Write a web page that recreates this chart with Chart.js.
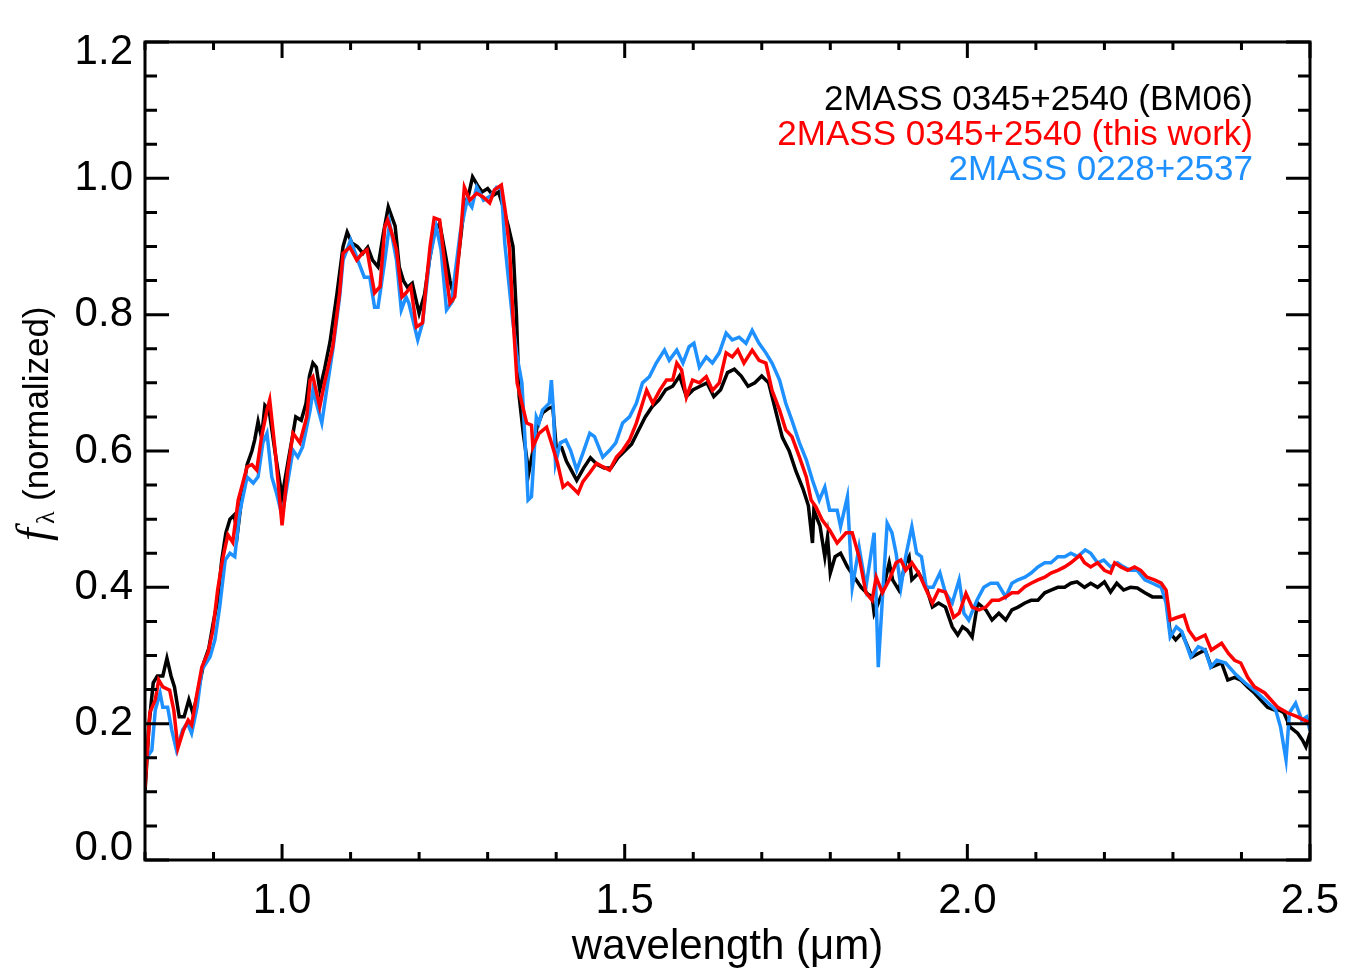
<!DOCTYPE html>
<html>
<head>
<meta charset="utf-8">
<script src="https://cdn.jsdelivr.net/npm/chart.js@4.4.1/dist/chart.umd.min.js"></script>
<style>
  html, body { margin: 0; padding: 0; background: #fff; }
  #wrap { width: 1350px; height: 975px; }
</style>
</head>
<body>
<div id="wrap"><canvas id="spectra" width="1350" height="975"></canvas></div>
<script>
// series labels and colours
const seriesLabels = ['2MASS 0345+2540 (BM06)', '2MASS 0345+2540 (this work)', '2MASS 0228+2537'];
const seriesColors = ['#000000', '#ff0000', '#1e90ff'];

// axis ticks
const xMajorTicks = [1.0, 1.5, 2.0, 2.5];
const yMajorTicks = [0.0, 0.2, 0.4, 0.6, 0.8, 1.0, 1.2];

// 2MASS 0345+2540 (BM06)
const bm06Wave = [0.800,0.806,0.812,0.818,0.826,0.832,0.838,0.843,0.850,0.857,0.864,0.870,0.878,0.886,0.893,0.900,0.906,0.912,0.918,0.924,0.930,0.935,0.941,0.949,0.956,0.960,0.965,0.970,0.975,0.981,0.990,1.000,1.008,1.015,1.020,1.028,1.035,1.040,1.045,1.050,1.055,1.062,1.070,1.080,1.089,1.095,1.102,1.110,1.118,1.125,1.132,1.140,1.148,1.155,1.165,1.171,1.177,1.183,1.190,1.200,1.208,1.215,1.222,1.230,1.238,1.245,1.250,1.258,1.266,1.272,1.278,1.285,1.292,1.300,1.308,1.316,1.322,1.330,1.337,1.342,1.346,1.352,1.360,1.366,1.372,1.380,1.388,1.395,1.400,1.408,1.415,1.422,1.430,1.440,1.450,1.460,1.470,1.480,1.490,1.500,1.510,1.520,1.530,1.540,1.550,1.560,1.570,1.580,1.590,1.600,1.610,1.620,1.630,1.640,1.650,1.660,1.670,1.680,1.690,1.700,1.710,1.720,1.730,1.740,1.750,1.760,1.768,1.774,1.776,1.785,1.792,1.796,1.800,1.807,1.815,1.825,1.835,1.845,1.855,1.861,1.864,1.876,1.886,1.891,1.900,1.910,1.915,1.919,1.929,1.940,1.949,1.958,1.968,1.978,1.986,1.993,2.000,2.007,2.015,2.027,2.036,2.046,2.056,2.065,2.074,2.084,2.093,2.103,2.113,2.122,2.132,2.142,2.151,2.160,2.171,2.180,2.190,2.200,2.209,2.218,2.228,2.238,2.248,2.259,2.270,2.283,2.290,2.296,2.304,2.313,2.328,2.337,2.347,2.356,2.371,2.380,2.390,2.399,2.409,2.419,2.428,2.438,2.448,2.455,2.462,2.471,2.482,2.489,2.494,2.500];
const bm06Flux = [0.100,0.200,0.260,0.270,0.270,0.296,0.270,0.254,0.210,0.210,0.235,0.215,0.250,0.290,0.310,0.350,0.380,0.440,0.480,0.500,0.506,0.480,0.530,0.580,0.600,0.616,0.643,0.620,0.667,0.660,0.597,0.533,0.580,0.620,0.650,0.645,0.670,0.710,0.729,0.723,0.690,0.720,0.760,0.830,0.900,0.921,0.905,0.900,0.890,0.899,0.880,0.870,0.920,0.958,0.930,0.870,0.850,0.840,0.846,0.802,0.830,0.880,0.920,0.934,0.890,0.850,0.830,0.890,0.960,0.975,1.002,0.990,0.980,0.985,0.975,0.980,0.960,0.930,0.900,0.800,0.680,0.626,0.568,0.600,0.635,0.656,0.662,0.665,0.606,0.605,0.585,0.572,0.557,0.575,0.590,0.580,0.575,0.575,0.590,0.600,0.610,0.630,0.650,0.665,0.675,0.690,0.695,0.710,0.680,0.690,0.695,0.700,0.680,0.690,0.715,0.720,0.710,0.695,0.700,0.710,0.700,0.660,0.620,0.600,0.570,0.545,0.520,0.465,0.513,0.490,0.445,0.474,0.421,0.445,0.450,0.430,0.415,0.400,0.390,0.386,0.362,0.392,0.436,0.411,0.396,0.436,0.445,0.411,0.421,0.400,0.371,0.377,0.371,0.342,0.330,0.342,0.337,0.327,0.377,0.367,0.352,0.362,0.352,0.367,0.371,0.377,0.381,0.381,0.392,0.396,0.400,0.400,0.406,0.408,0.400,0.406,0.400,0.408,0.393,0.406,0.396,0.400,0.399,0.392,0.386,0.386,0.385,0.333,0.323,0.333,0.298,0.303,0.308,0.283,0.289,0.264,0.268,0.264,0.254,0.245,0.235,0.224,0.220,0.220,0.216,0.195,0.186,0.176,0.166,0.186];

// 2MASS 0345+2540 (this work)
const thisWorkWave = [0.800,0.807,0.815,0.820,0.826,0.836,0.842,0.848,0.856,0.863,0.868,0.876,0.883,0.892,0.899,0.906,0.913,0.917,0.921,0.928,0.936,0.949,0.956,0.963,0.970,0.978,0.982,0.990,1.000,1.008,1.016,1.026,1.036,1.041,1.045,1.055,1.062,1.074,1.084,1.089,1.099,1.109,1.117,1.124,1.130,1.135,1.143,1.150,1.154,1.160,1.167,1.175,1.181,1.188,1.196,1.205,1.211,1.216,1.222,1.230,1.238,1.245,1.252,1.260,1.266,1.274,1.284,1.293,1.303,1.310,1.320,1.326,1.332,1.337,1.343,1.350,1.357,1.364,1.366,1.375,1.386,1.393,1.402,1.410,1.417,1.424,1.432,1.439,1.449,1.459,1.468,1.478,1.488,1.497,1.507,1.517,1.526,1.532,1.541,1.551,1.561,1.570,1.576,1.583,1.590,1.599,1.609,1.619,1.628,1.638,1.648,1.657,1.665,1.674,1.686,1.696,1.706,1.715,1.726,1.735,1.744,1.755,1.765,1.772,1.779,1.788,1.799,1.810,1.823,1.832,1.842,1.852,1.861,1.867,1.876,1.886,1.896,1.903,1.910,1.919,1.929,1.940,1.949,1.958,1.968,1.980,1.988,1.998,2.007,2.017,2.027,2.036,2.046,2.056,2.065,2.074,2.084,2.093,2.103,2.113,2.122,2.132,2.142,2.151,2.164,2.171,2.180,2.190,2.200,2.209,2.215,2.224,2.234,2.244,2.253,2.262,2.273,2.283,2.290,2.296,2.304,2.316,2.323,2.333,2.347,2.356,2.371,2.381,2.390,2.399,2.409,2.419,2.434,2.453,2.467,2.482,2.500];
const thisWorkFlux = [0.106,0.216,0.235,0.264,0.254,0.249,0.220,0.164,0.190,0.205,0.198,0.245,0.283,0.304,0.337,0.396,0.440,0.459,0.477,0.466,0.528,0.577,0.580,0.572,0.620,0.660,0.675,0.600,0.491,0.570,0.626,0.612,0.650,0.704,0.709,0.665,0.700,0.753,0.832,0.890,0.899,0.880,0.890,0.895,0.860,0.832,0.841,0.929,0.939,0.920,0.895,0.826,0.832,0.841,0.782,0.788,0.851,0.900,0.942,0.939,0.870,0.817,0.826,0.910,0.987,0.968,0.978,0.973,0.964,0.983,0.990,0.950,0.895,0.797,0.700,0.670,0.641,0.638,0.606,0.626,0.635,0.612,0.582,0.547,0.553,0.546,0.538,0.555,0.568,0.582,0.577,0.572,0.591,0.601,0.616,0.641,0.670,0.689,0.670,0.689,0.704,0.704,0.729,0.719,0.679,0.704,0.700,0.709,0.689,0.700,0.744,0.738,0.748,0.729,0.748,0.733,0.729,0.689,0.660,0.631,0.621,0.591,0.562,0.528,0.518,0.499,0.484,0.465,0.480,0.480,0.445,0.392,0.381,0.415,0.392,0.411,0.436,0.440,0.425,0.436,0.421,0.396,0.377,0.396,0.393,0.356,0.362,0.391,0.371,0.367,0.371,0.381,0.381,0.386,0.392,0.392,0.401,0.406,0.411,0.415,0.421,0.425,0.430,0.436,0.447,0.436,0.430,0.436,0.425,0.421,0.436,0.430,0.425,0.430,0.425,0.415,0.411,0.406,0.396,0.352,0.355,0.359,0.337,0.323,0.330,0.308,0.318,0.303,0.293,0.289,0.268,0.254,0.245,0.224,0.216,0.210,0.201];

// 2MASS 0228+2537
const j0228Wave = [0.800,0.810,0.815,0.822,0.826,0.833,0.839,0.846,0.855,0.862,0.868,0.876,0.883,0.895,0.902,0.909,0.917,0.924,0.931,0.938,0.949,0.958,0.965,0.972,0.978,0.985,0.992,1.000,1.016,1.023,1.030,1.041,1.045,1.058,1.065,1.074,1.084,1.089,1.100,1.112,1.120,1.128,1.135,1.140,1.150,1.157,1.167,1.174,1.181,1.185,1.198,1.205,1.215,1.225,1.232,1.240,1.247,1.260,1.270,1.277,1.284,1.294,1.305,1.313,1.320,1.325,1.336,1.343,1.350,1.354,1.359,1.364,1.371,1.375,1.380,1.390,1.393,1.396,1.399,1.406,1.414,1.421,1.430,1.439,1.449,1.456,1.468,1.478,1.487,1.497,1.507,1.517,1.526,1.536,1.546,1.558,1.565,1.576,1.585,1.594,1.601,1.609,1.619,1.628,1.638,1.648,1.657,1.667,1.677,1.686,1.696,1.706,1.715,1.726,1.735,1.744,1.755,1.765,1.774,1.784,1.792,1.799,1.810,1.815,1.825,1.832,1.842,1.852,1.864,1.870,1.877,1.883,1.890,1.896,1.903,1.910,1.919,1.926,1.933,1.940,1.950,1.960,1.968,1.978,1.988,1.995,2.002,2.014,2.024,2.034,2.044,2.056,2.065,2.074,2.084,2.093,2.103,2.113,2.122,2.132,2.142,2.151,2.161,2.172,2.180,2.190,2.199,2.209,2.219,2.228,2.238,2.248,2.259,2.270,2.283,2.290,2.296,2.305,2.313,2.326,2.337,2.347,2.355,2.364,2.377,2.390,2.405,2.419,2.434,2.450,2.457,2.465,2.470,2.479,2.488,2.495,2.500];
const j0228Flux = [0.147,0.161,0.220,0.245,0.224,0.224,0.191,0.161,0.191,0.201,0.186,0.224,0.279,0.298,0.323,0.371,0.440,0.450,0.445,0.509,0.562,0.553,0.562,0.612,0.626,0.562,0.538,0.505,0.601,0.591,0.606,0.660,0.689,0.641,0.689,0.748,0.826,0.880,0.909,0.876,0.855,0.855,0.811,0.811,0.880,0.934,0.880,0.807,0.826,0.817,0.763,0.788,0.880,0.929,0.895,0.807,0.817,0.920,0.968,0.958,0.987,0.968,0.975,0.987,0.985,0.905,0.797,0.738,0.700,0.626,0.528,0.533,0.650,0.641,0.660,0.670,0.704,0.660,0.582,0.612,0.616,0.601,0.572,0.597,0.626,0.621,0.591,0.601,0.612,0.641,0.650,0.670,0.700,0.709,0.729,0.748,0.733,0.748,0.729,0.753,0.758,0.723,0.738,0.729,0.744,0.773,0.763,0.767,0.758,0.777,0.758,0.744,0.729,0.704,0.670,0.645,0.612,0.587,0.557,0.528,0.547,0.513,0.513,0.489,0.533,0.400,0.459,0.400,0.480,0.283,0.400,0.494,0.480,0.450,0.400,0.445,0.489,0.450,0.445,0.400,0.400,0.421,0.392,0.377,0.411,0.362,0.352,0.381,0.400,0.406,0.406,0.386,0.406,0.411,0.415,0.421,0.430,0.436,0.436,0.445,0.445,0.450,0.445,0.455,0.450,0.436,0.440,0.430,0.436,0.430,0.425,0.425,0.411,0.406,0.400,0.377,0.327,0.342,0.335,0.298,0.313,0.308,0.283,0.293,0.289,0.274,0.260,0.249,0.235,0.220,0.195,0.147,0.216,0.230,0.205,0.210,0.190];

const toPoints = (wave, flux) => wave.map((w, i) => ({ x: w, y: flux[i] }));

const SANS = '"Liberation Sans", Arial, Helvetica, sans-serif';

// IDL-style box: frame, inward ticks on all four sides, y labels kept inside the axis range
const boxAxes = {
    id: 'boxAxes',
    beforeDraw(chart) {
        const { ctx } = chart;
        ctx.save();
        ctx.fillStyle = '#fff';
        ctx.fillRect(0, 0, chart.width, chart.height);
        ctx.restore();
    },
    afterDatasetsDraw(chart) {
        const { ctx, chartArea: a, scales: { x, y } } = chart;
        ctx.save();
        ctx.strokeStyle = '#000';
        ctx.lineWidth = 3;
        ctx.lineCap = 'butt';
        ctx.strokeRect(a.left, a.top, a.right - a.left, a.bottom - a.top);

        ctx.beginPath();
        for (let i = 8; i <= 25; i++) {
            const px = x.getPixelForValue(i / 10);
            const len = i % 5 === 0 ? 16 : 8;
            ctx.moveTo(px, a.bottom); ctx.lineTo(px, a.bottom - len);
            ctx.moveTo(px, a.top); ctx.lineTo(px, a.top + len);
        }
        for (let i = 0; i <= 24; i++) {
            const py = y.getPixelForValue(i * 0.05);
            const len = i % 4 === 0 ? 24 : 12;
            ctx.moveTo(a.left, py); ctx.lineTo(a.left + len, py);
            ctx.moveTo(a.right, py); ctx.lineTo(a.right - len, py);
        }
        ctx.stroke();

        // y tick labels
        ctx.fillStyle = '#000';
        ctx.font = '42px ' + SANS;
        ctx.textAlign = 'right';
        ctx.textBaseline = 'middle';
        yMajorTicks.forEach(v => {
            let py = y.getPixelForValue(v);
            py = Math.min(Math.max(py, a.top + 10), a.bottom - 12);
            ctx.fillText(v.toFixed(1), a.left - 12, py);
        });

        // y title: f_lambda (normalized)
        ctx.translate(48, 543);
        ctx.rotate(-Math.PI / 2);
        ctx.textAlign = 'left';
        ctx.textBaseline = 'alphabetic';
        ctx.font = 'italic 46px "Liberation Serif", "DejaVu Serif", serif';
        ctx.fillText('f', 2, 0);
        ctx.font = '26px "Liberation Serif", "DejaVu Serif", serif';
        ctx.fillText('λ', 19, 6);
        ctx.font = '35px ' + SANS;
        ctx.fillText('(normalized)', 42, 0);
        ctx.restore();

        // legend text, right aligned, in series colours
        ctx.save();
        ctx.font = '35px ' + SANS;
        ctx.textAlign = 'right';
        ctx.textBaseline = 'alphabetic';
        chart.data.datasets.forEach((ds, i) => {
            ctx.fillStyle = ds.borderColor;
            ctx.fillText(ds.label, 1253, 110 + i * 35);
        });
        ctx.restore();
    }
};

new Chart(document.getElementById('spectra'), {
    type: 'line',
    data: {
        datasets: [
            { label: seriesLabels[0], data: toPoints(bm06Wave, bm06Flux), borderColor: seriesColors[0], order: 3 },
            { label: seriesLabels[1], data: toPoints(thisWorkWave, thisWorkFlux), borderColor: seriesColors[1], order: 1 },
            { label: seriesLabels[2], data: toPoints(j0228Wave, j0228Flux), borderColor: seriesColors[2], order: 2 }
        ]
    },
    options: {
        responsive: false,
        devicePixelRatio: 1,
        animation: false,
        layout: { padding: { top: 42, right: 40, left: 0, bottom: 0 } },
        elements: {
            point: { radius: 0 },
            line: { borderWidth: 3.5, tension: 0, borderJoinStyle: 'miter', fill: false }
        },
        plugins: {
            legend: { display: false },
            tooltip: { enabled: false }
        },
        scales: {
            x: {
                type: 'linear',
                min: 0.8,
                max: 2.5,
                afterBuildTicks: axis => { axis.ticks = xMajorTicks.map(v => ({ value: v })); },
                afterFit: axis => {
                    axis.height = 115;
                    axis.paddingLeft = 0;
                    axis.paddingRight = 0;
                },
                grid: { display: false, drawTicks: false },
                border: { display: false },
                ticks: {
                    color: '#000',
                    font: { family: SANS, size: 42 },
                    padding: 16,
                    maxRotation: 0,
                    callback: v => Number(v).toFixed(1)
                },
                title: {
                    display: true,
                    text: 'wavelength (μm)',
                    color: '#000',
                    font: { family: SANS, size: 42 },
                    padding: { top: 0, bottom: 2 }
                }
            },
            y: {
                type: 'linear',
                min: 0,
                max: 1.2,
                afterBuildTicks: axis => { axis.ticks = yMajorTicks.map(v => ({ value: v })); },
                afterFit: axis => { axis.width = 145; },
                grid: { display: false, drawTicks: false },
                border: { display: false },
                ticks: { display: false }
            }
        }
    },
    plugins: [boxAxes]
});
</script>
</body>
</html>
